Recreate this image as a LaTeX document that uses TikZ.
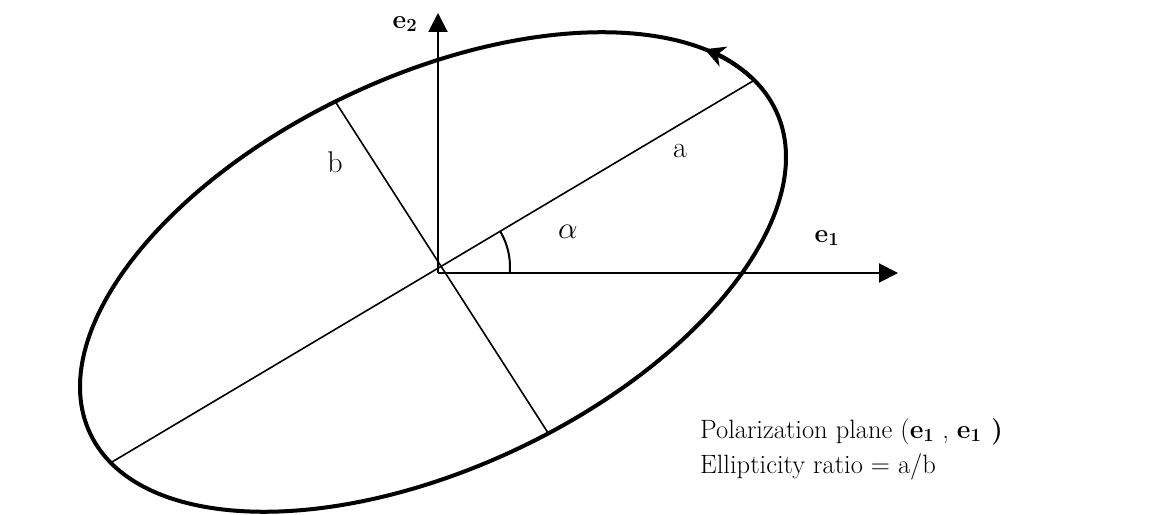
\documentclass[tikz,border=0pt]{standalone}
\usetikzlibrary{arrows.meta}

\begin{document}
\begin{tikzpicture}[x=1pt,y=1pt,font=\fontsize{26.5}{35}\selectfont,
axis/.style={line width=2pt,-{Triangle[length=19pt,width=19pt]}},
ellip/.style={line width=4pt},
halfaxis/.style={line width=1.6pt},
anglearc/.style={line width=2pt},
lbl/.style={inner sep=0pt},
axlbl/.style={lbl,font=\fontsize{30}{36}\selectfont},
legend/.style={inner sep=0pt,anchor=base west,align=left}]
\useasboundingbox (0,0) rectangle (1150,514);

\coordinate (o) at (438,241);
\coordinate (m) at (440,247);
\coordinate (e1tip) at (898,241);
\coordinate (e2tip) at (438,501);

\begin{scope}[shift={(433,242)},rotate=25.2]
\draw[ellip] (0,0) ellipse [x radius=379,y radius=196];
\draw[ellip,-{Stealth[length=20pt,width=21pt,inset=6pt]}] (12:379 and 196) arc [start angle=12,end angle=26,x radius=379,y radius=196];
\coordinate (a1) at (10.8:379 and 196);
\coordinate (a2) at (190.4:379 and 196);
\coordinate (b1) at (92.4:379 and 196);
\coordinate (b2) at (275.4:379 and 196);
\end{scope}

\draw[halfaxis] (a2)--(a1);
\draw[halfaxis] (b1)--(b2);
\draw[axis] (o)--(e1tip);
\draw[axis] (o)--(e2tip);
\draw[anglearc] ([shift={(-5:70)}]m) arc [start angle=-5,end angle=30.7,radius=70];

\node[lbl] (e2lbl) at (405,490) {\textbf{e\textsubscript{2}}};
\node[lbl] (e1lbl) at (827,276) {\textbf{e\textsubscript{1}}};
\node[axlbl] (albl) at (680,363) {a};
\node[axlbl] (blbl) at (335,352) {b};
\node[axlbl] (alphalbl) at (568,282) {\scalebox{1.25}{$\alpha$}};

\node[legend] (note) at (700,41) {Polarization plane (\textbf{e\textsubscript{1}} , \textbf{e\textsubscript{1} )}\\Ellipticity ratio = a/b};
\end{tikzpicture}
\end{document}
